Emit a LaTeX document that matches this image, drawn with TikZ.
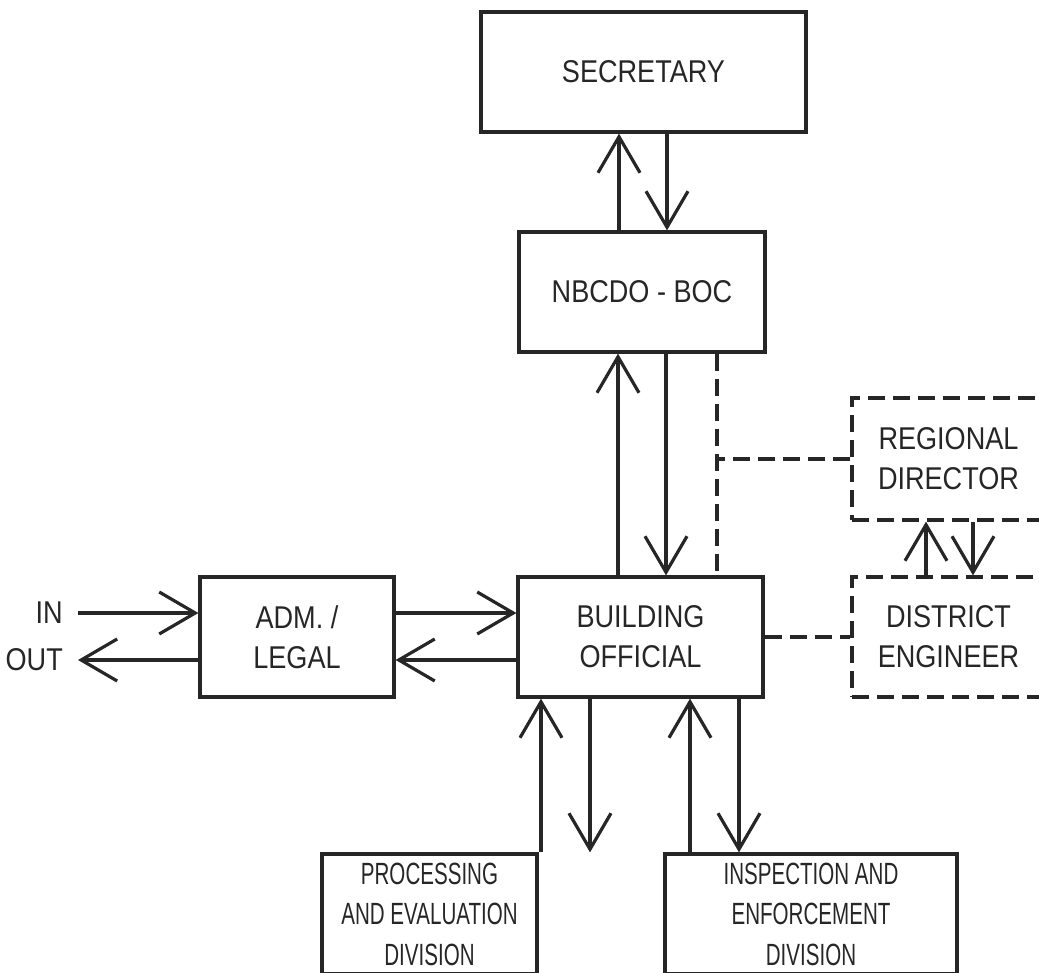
\documentclass[tikz,border=0pt]{standalone}
\usepackage{fontspec}
\setmainfont[FakeStretch=0.86]{Liberation Sans}
\newfontfamily\narrowfont[FakeStretch=0.67]{Liberation Sans}
\usetikzlibrary{arrows.meta}

\tikzset{
  box/.style={draw,line width=3.2pt,align=center,inner sep=0pt},
  dbox/.style={box,dash pattern=on 17pt off 8pt},
  nbox/.style={box,font=\narrowfont\fontsize{30.7}{40.5}\selectfont},
  arr/.style={line width=3.2pt,-{Straight Barb[length=36pt,width=42pt,line width=3.2pt]}},
  dline/.style={line width=3.2pt,dash pattern=on 17pt off 8pt},
  lbl/.style={inner xsep=15pt,inner ysep=0pt,anchor=east}
}

\begin{document}
\begin{tikzpicture}[x=1pt,y=-1pt,font=\fontsize{31.5}{40}\selectfont,color=black!85]
\useasboundingbox (0,0) rectangle (1039,973);
\clip (0,0) rectangle (1039,973);

\node[box,minimum width=325,minimum height=120]	(sec)	at (643.5,72)	{SECRETARY};
\node[box,minimum width=246,minimum height=120]	(nbcdo)	at (642,292)	{NBCDO - BOC};
\node[box,minimum width=245,minimum height=120]	(bo)	at (640.5,637)	{BUILDING\\OFFICIAL};
\node[box,minimum width=194,minimum height=120]	(adm)	at (297,637)	{ADM. /\\LEGAL};
\node[dbox,minimum width=193,minimum height=122]	(rd)	at (948.5,459)	{REGIONAL\\DIRECTOR};
\node[dbox,minimum width=193,minimum height=120]	(de)	at (948.5,637)	{DISTRICT\\ENGINEER};
\node[nbox,minimum width=215,minimum height=120]	(ped)	at (429.5,914)	{PROCESSING\\AND EVALUATION\\DIVISION};
\node[nbox,minimum width=292,minimum height=120]	(ied)	at (811,914)	{INSPECTION AND\\ENFORCEMENT\\DIVISION};
\node[lbl]	(in)	at (78,613)	{IN};
\node[lbl]	(out)	at (78,660)	{OUT};

% vertical links
\draw[arr] ([xshift=-23]nbcdo.north) -- ([xshift=-23]nbcdo.north |- sec.south);
\draw[arr] ([xshift=25]nbcdo.north |- sec.south) -- ([xshift=25]nbcdo.north);
\draw[arr] ([xshift=-22.5]bo.north) -- ([xshift=-22.5]bo.north |- nbcdo.south);
\draw[arr] ([xshift=25.5]bo.north |- nbcdo.south) -- ([xshift=25.5]bo.north);
\draw[arr] ([xshift=-22.5]de.north) -- ([xshift=-22.5]de.north |- rd.south);
\draw[arr] ([xshift=24.5]de.north |- rd.south) -- ([xshift=24.5]de.north);
\draw[arr] ([xshift=-99.5]bo.south |- ped.north) -- ([xshift=-99.5]bo.south);
\draw[arr] ([xshift=-50.5]bo.south) -- ([xshift=-50.5]bo.south |- ped.north);
\draw[arr] ([xshift=49.5]bo.south |- ied.north) -- ([xshift=49.5]bo.south);
\draw[arr] ([xshift=98.5]bo.south) -- ([xshift=98.5]bo.south |- ied.north);

% horizontal links
\draw[arr] (in.east) -- (in.east -| adm.west);
\draw[arr] (adm.west |- out.east) -- (out.east);
\draw[arr] ([yshift=24]adm.east) -- ([yshift=24]adm.east -| bo.west);
\draw[arr] ([yshift=-23]bo.west) -- ([yshift=-23]bo.west -| adm.east);

% dashed links
\coordinate (tap) at ([xshift=75]nbcdo.south);
\draw[dline] (tap) -- (tap |- bo.north);
\draw[dline] (rd.west) -- (rd.west -| tap);
\draw[dline] (bo.east) -- (de.west);
\end{tikzpicture}
\end{document}
